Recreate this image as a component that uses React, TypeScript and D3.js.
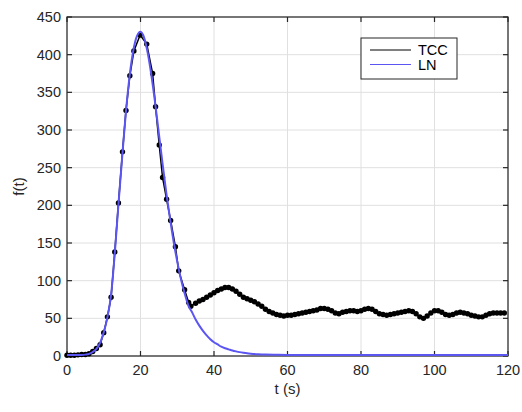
import React from "react";
import * as d3 from "d3";

const tccTime = [
  0, 1, 2, 3, 4, 5, 6, 7, 8, 9, 10, 11, 12, 13, 14, 15.1, 16.05, 17.1, 18.2, 19.9,
  21.7, 23.3, 24.1, 25.1, 26, 27.1, 28.2, 29.5, 30.4, 32, 33.1, 33.7,
  35, 36, 37, 38, 39, 40, 41, 42, 43, 44, 45, 46, 47, 48, 49, 50, 51, 52, 53, 54,
  55, 56, 57, 58, 59, 60, 61, 62, 63, 64, 65, 66, 67, 68, 69, 70, 71, 72, 73, 74,
  75, 76, 77, 78, 79, 80, 81, 82, 83, 84, 85, 86, 87, 88, 89, 90, 91, 92, 93, 94,
  95, 96, 97, 98, 99, 100, 101, 102, 103, 104, 105, 106, 107, 108, 109, 110, 111,
  112, 113, 114, 115, 116, 117, 118, 119,
];
const tccValue = [
  1, 1, 1, 1.5, 2, 2, 3, 6, 10, 15, 31, 52, 78, 138, 203, 271, 326, 372, 405, 426,
  414, 375, 331, 280, 237, 208, 180, 145, 113, 88, 71, 66,
  70, 73, 75, 78, 81, 84, 87, 89, 91, 91, 89, 86, 82, 78, 76, 74, 72, 69, 66, 62,
  59, 57, 55, 54, 53, 54, 54, 55, 56, 57, 58, 59, 60, 61, 63, 63, 62, 60, 57, 56,
  58, 59, 60, 60, 59, 60, 62, 63, 62, 59, 56, 55, 54, 55, 56, 57, 58, 59, 60, 59,
  56, 52, 50, 53, 57, 60, 60, 58, 55, 54, 55, 57, 58, 57, 56, 54, 53,
  52, 52, 54, 56, 57, 57, 57, 57,
];

const lnTime = [
  0, 1, 2, 3, 4, 5, 6, 7, 8, 9, 10, 11, 12, 13, 14, 15, 16, 17, 18, 19, 20, 21, 22,
  23, 24, 25, 26, 27, 28, 29, 30, 31, 32, 33, 34, 35, 36, 37, 38, 39, 40, 41, 42,
  43, 44, 45, 46, 47, 48, 49, 50, 52, 54, 57, 60, 70, 80, 90, 100, 110, 120,
];
const lnValue = [
  0, 0, 0, 0, 0, 0.5, 1.5, 4, 8, 16, 30, 50, 80, 135, 200, 262, 321, 369, 403, 423,
  429, 421, 400, 370, 334, 294, 254, 216, 182, 151, 124, 101, 82, 66, 57, 47, 39,
  32, 26, 21, 17, 14, 11, 9, 7.5, 6, 4.8, 3.8, 3, 2.3, 1.8, 1.1, 0.6, 0.3, 0.1, 0,
  0, 0, 0, 0, 0,
];

const xTicks = [0, 20, 40, 60, 80, 100, 120];
const yTicks = [0, 50, 100, 150, 200, 250, 300, 350, 400, 450];
const legendLabels = ["TCC", "LN"];

const W = 522;
const H = 412;
const L = 67;
const R = 508;
const T = 17;
const B = 356;
const AX = "#262626";
const GRID = "#e0e0e0";
const BLUE = "#5b55f2";
const FONT = "'Liberation Sans', Arial, Helvetica, sans-serif";

export default function App() {
  const x = d3.scaleLinear().domain([0, 120]).range([L, R]);
  const y = d3.scaleLinear().domain([0, 450]).range([B, T]);

  const tcc = tccTime.map((t, i) => [t, tccValue[i]] as [number, number]);
  const ln = lnTime.map((t, i) => [t, lnValue[i]] as [number, number]);

  const tccLine = d3
    .line<[number, number]>()
    .x((d) => x(d[0]))
    .y((d) => y(d[1]));
  const lnLine = d3
    .line<[number, number]>()
    .x((d) => x(d[0]))
    .y((d) => y(d[1]))
    .curve(d3.curveMonotoneX);

  const tick = 5;
  const lgX = 361;
  const lgY = 38;
  const lgW = 96;
  const lgH = 41;

  return (
    <svg
      width={W}
      height={H}
      style={{ position: "absolute", left: 0, top: 0, background: "#fff" }}
      fontFamily={FONT}
    >
      <rect x={0} y={0} width={W} height={H} fill="#fff" />
      {/* grid */}
      {xTicks.map((t) => (
        <line key={"gx" + t} x1={x(t)} x2={x(t)} y1={T} y2={B} stroke={GRID} strokeWidth={1} />
      ))}
      {yTicks.map((t) => (
        <line key={"gy" + t} x1={L} x2={R} y1={y(t)} y2={y(t)} stroke={GRID} strokeWidth={1} />
      ))}
      {/* box */}
      <rect x={L} y={T} width={R - L} height={B - T} fill="none" stroke={AX} strokeWidth={1.2} />
      {xTicks.map((t) => (
        <g key={"tx" + t}>
          <line x1={x(t)} x2={x(t)} y1={B} y2={B - tick} stroke={AX} strokeWidth={1.2} />
          <line x1={x(t)} x2={x(t)} y1={T} y2={T + tick} stroke={AX} strokeWidth={1.2} />
          <text x={x(t)} y={B + 19} textAnchor="middle" fontSize={14.5} fill={AX}>
            {t}
          </text>
        </g>
      ))}
      {yTicks.map((t) => (
        <g key={"ty" + t}>
          <line x1={L} x2={L + tick} y1={y(t)} y2={y(t)} stroke={AX} strokeWidth={1.2} />
          <line x1={R} x2={R - tick} y1={y(t)} y2={y(t)} stroke={AX} strokeWidth={1.2} />
          <text x={L - 6} y={y(t) + 5} textAnchor="end" fontSize={14.5} fill={AX}>
            {t}
          </text>
        </g>
      ))}
      {/* data */}
      <path d={tccLine(tcc) || ""} fill="none" stroke="#000" strokeWidth={1.5} />
      {tcc.map((d, i) => (
        <circle key={"m" + i} cx={x(d[0])} cy={y(d[1])} r={2.7} fill="#000" />
      ))}
      <path
        d={lnLine(ln) || ""}
        fill="none"
        stroke={BLUE}
        strokeWidth={2}
        transform="translate(0,-1)"
      />
      <text x={(L + R) / 2} y={394} textAnchor="middle" fontSize={15} fill={AX}>
        t (s)
      </text>
      <text
        transform={`translate(24, ${(T + B) / 2}) rotate(-90)`}
        textAnchor="middle"
        fontSize={15}
        fill={AX}
      >
        f(t)
      </text>
      {/* legend */}
      <rect x={lgX} y={lgY} width={lgW} height={lgH} fill="#fff" stroke={AX} strokeWidth={1} />
      {legendLabels.map((lab, i) => (
        <g key={lab}>
          <line
            x1={370}
            x2={411}
            y1={lgY + 12 + i * 14.5}
            y2={lgY + 12 + i * 14.5}
            stroke={i === 0 ? "#000" : BLUE}
            strokeWidth={1}
          />
          <text x={418} y={lgY + 17 + i * 14.5} fontSize={14.5} fill="#000">
            {lab}
          </text>
        </g>
      ))}
    </svg>
  );
}
